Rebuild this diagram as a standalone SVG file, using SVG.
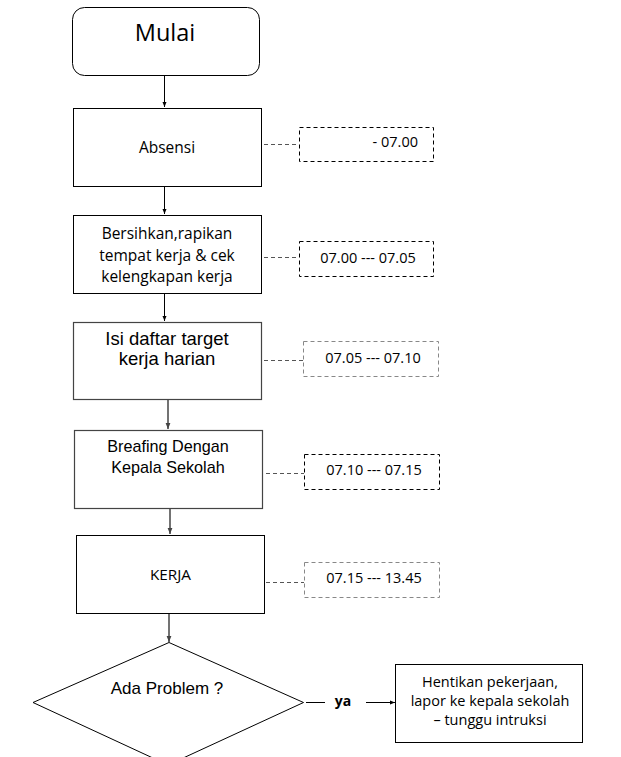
<svg xmlns="http://www.w3.org/2000/svg" width="621" height="757" viewBox="0 0 621 757">
<defs>
<style>
.box{fill:#fff;stroke:#000;stroke-width:1}
.gbox{fill:#fff;stroke:#444;stroke-width:1.2}
.dbox{fill:#fff;stroke:#000;stroke-width:1;stroke-dasharray:4 3}
.dgbox{fill:#fff;stroke:#888;stroke-width:1;stroke-dasharray:4 3}
.dl{stroke:#555;stroke-width:1;stroke-dasharray:4 3;fill:none}
.ar{stroke:#000;stroke-width:1;fill:none}
.gar{stroke:#444;stroke-width:1.5;fill:none}
.c{font-family:"Open Sans","Liberation Sans",sans-serif;fill:#000;text-anchor:middle}
.t{font-family:"Liberation Sans","DejaVu Sans",sans-serif;fill:#000;text-anchor:middle}
</style>
<marker id="ah" viewBox="0 0 10 10" refX="10" refY="5" markerWidth="5" markerHeight="5" orient="auto" markerUnits="userSpaceOnUse">
<path d="M0,1 L10,5 L0,9 z" fill="#000"/>
</marker>
<marker id="gah" viewBox="0 0 10 10" refX="10" refY="5" markerWidth="6" markerHeight="6" orient="auto" markerUnits="userSpaceOnUse">
<path d="M0,1 L10,5 L0,9 z" fill="#444"/>
</marker>
</defs>

<g id="connectors">
<line class="ar" x1="164.5" y1="76" x2="164.5" y2="107" marker-end="url(#ah)"/>
<line class="ar" x1="164.5" y1="187" x2="164.5" y2="214" marker-end="url(#ah)"/>
<line class="ar" x1="164.5" y1="294" x2="164.5" y2="321" marker-end="url(#ah)"/>
<line class="gar" x1="168" y1="400" x2="168" y2="429" marker-end="url(#gah)"/>
<line class="gar" x1="170" y1="509" x2="170" y2="534" marker-end="url(#gah)"/>
<line class="gar" x1="169" y1="614" x2="169" y2="642" marker-end="url(#gah)"/>
<line class="dl" x1="264" y1="144.5" x2="299" y2="144.5"/>
<line class="dl" x1="264" y1="257.5" x2="299" y2="257.5"/>
<line class="dl" x1="264" y1="360.5" x2="303" y2="360.5"/>
<line class="dl" x1="266" y1="473.5" x2="304" y2="473.5"/>
<line class="dl" x1="266" y1="582.5" x2="304" y2="582.5"/>
<line class="ar" x1="306" y1="702.5" x2="325" y2="702.5"/>
<line class="ar" x1="366" y1="702.5" x2="395" y2="702.5" marker-end="url(#ah)"/>
<text class="c" x="343" y="706" font-size="14" font-weight="bold">ya</text>
</g>

<g id="mulai">
<rect class="box" x="72.5" y="7.5" width="187" height="68" rx="12"/>
<text class="c" x="165" y="41" font-size="23.5">Mulai</text>
</g>

<g id="absensi">
<rect class="box" x="73.5" y="108.5" width="188" height="78"/>
<text class="c" x="167" y="153" font-size="15.5">Absensi</text>
</g>

<g id="bersihkan">
<rect class="box" x="73.5" y="215.5" width="188" height="78"/>
<text class="c" x="167" y="239" font-size="15.5">Bersihkan,rapikan</text>
<text class="c" x="167" y="260.5" font-size="15.5">tempat kerja &amp; cek</text>
<text class="c" x="167" y="282" font-size="15.5">kelengkapan kerja</text>
</g>

<g id="isi">
<rect class="gbox" x="73.5" y="322.5" width="188" height="77"/>
<text class="t" x="167" y="345" font-size="18.5">Isi daftar target</text>
<text class="t" x="167" y="365" font-size="18.5">kerja harian</text>
</g>

<g id="breafing">
<rect class="gbox" x="74.5" y="430.5" width="188" height="78"/>
<text class="t" x="168" y="452" font-size="16.2">Breafing Dengan</text>
<text class="t" x="168" y="473" font-size="16.2">Kepala Sekolah</text>
</g>

<g id="kerja">
<rect class="box" x="76.5" y="535.5" width="188" height="78"/>
<text class="c" x="170.5" y="580" font-size="15.3">KERJA</text>
</g>

<g id="problem">
<polygon class="box" points="169,642.5 303.5,702.5 168,765 33,702.5"/>
<text class="t" x="167" y="694" font-size="17">Ada Problem ?</text>
</g>

<g id="hentikan">
<rect class="box" x="395.5" y="664.5" width="187" height="78"/>
<text class="c" x="490" y="687" font-size="14.5">Hentikan pekerjaan,</text>
<text class="c" x="490" y="706" font-size="14.5">lapor ke kepala sekolah</text>
<text class="c" x="490" y="725" font-size="14.5">– tunggu intruksi</text>
</g>

<g id="t1">
<rect class="dbox" x="299.5" y="127.5" width="134" height="34"/>
<text class="c" x="418" y="147" font-size="14.5" style="text-anchor:end">- 07.00</text>
</g>
<g id="t2">
<rect class="dbox" x="299.5" y="241.5" width="134" height="35"/>
<text class="c" x="368" y="263" font-size="14.5">07.00 --- 07.05</text>
</g>
<g id="t3">
<rect class="dgbox" x="303.5" y="341.5" width="135" height="35"/>
<text class="c" x="373" y="363" font-size="14.5">07.05 --- 07.10</text>
</g>
<g id="t4">
<rect class="dbox" x="304.5" y="454.5" width="135" height="35"/>
<text class="c" x="374" y="475" font-size="14.5">07.10 --- 07.15</text>
</g>
<g id="t5">
<rect class="dgbox" x="304.5" y="562.5" width="135" height="35"/>
<text class="c" x="374" y="583" font-size="14.5">07.15 --- 13.45</text>
</g>
</svg>
